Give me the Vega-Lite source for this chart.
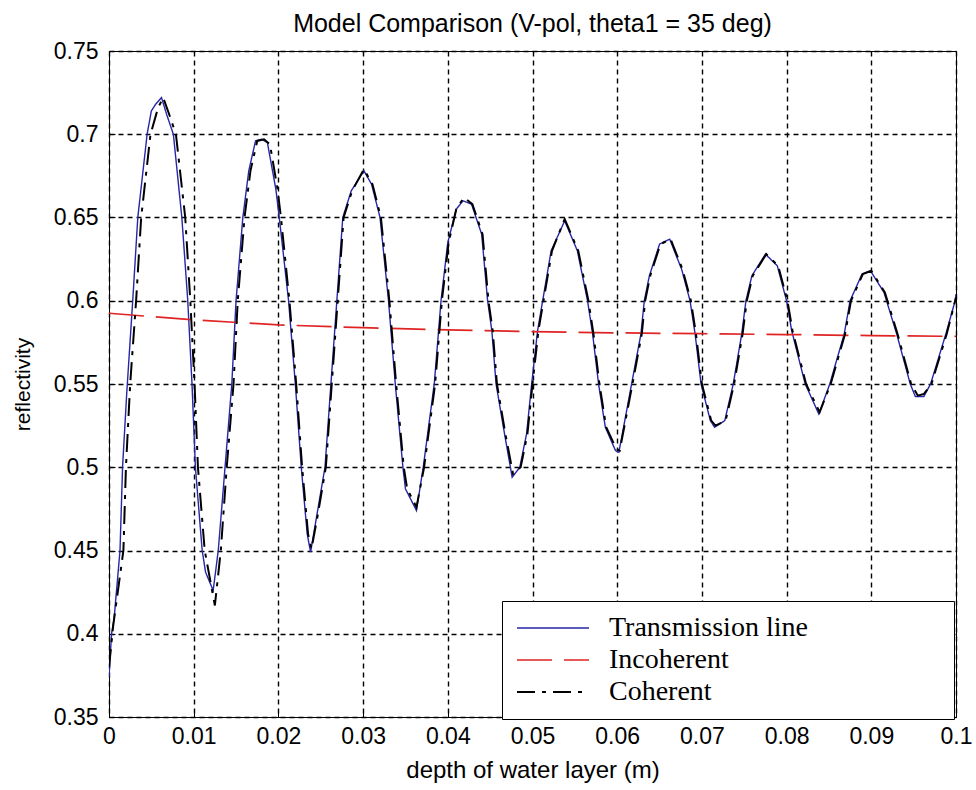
{
  "$schema": "https://vega.github.io/schema/vega-lite/v6.json",
  "autosize": {"type": "none"},
  "width": 847,
  "height": 666,
  "padding": {"left": 109, "top": 51, "right": 20, "bottom": 73},
  "background": "white",
  "title": {
    "text": "Model Comparison (V-pol, theta1 = 35 deg)",
    "font": "Liberation Sans",
    "fontSize": 25,
    "fontWeight": "normal",
    "color": "black",
    "offset": 3
  },
  "config": {
    "view": {"stroke": "black", "strokeWidth": 1},
    "axis": {
      "domainColor": "black",
      "gridColor": "black",
      "gridDash": [5, 4],
      "gridOpacity": 1,
      "gridWidth": 1.4,
      "tickColor": "black",
      "tickSize": -6,
      "labelFont": "Liberation Sans",
      "labelFontSize": 23,
      "labelColor": "black",
      "titleFont": "Liberation Sans",
      "titleColor": "black",
      "titleFontWeight": "normal"
    }
  },
  "data": {
    "values": [
      {"depth": 0.0000, "reflectivity": 0.374, "series": "Transmission line"},
      {"depth": 0.0003, "reflectivity": 0.400, "series": "Transmission line"},
      {"depth": 0.0006, "reflectivity": 0.409, "series": "Transmission line"},
      {"depth": 0.0013, "reflectivity": 0.450, "series": "Transmission line"},
      {"depth": 0.0016, "reflectivity": 0.500, "series": "Transmission line"},
      {"depth": 0.0021, "reflectivity": 0.545, "series": "Transmission line"},
      {"depth": 0.0028, "reflectivity": 0.600, "series": "Transmission line"},
      {"depth": 0.0034, "reflectivity": 0.650, "series": "Transmission line"},
      {"depth": 0.0045, "reflectivity": 0.700, "series": "Transmission line"},
      {"depth": 0.0050, "reflectivity": 0.714, "series": "Transmission line"},
      {"depth": 0.0055, "reflectivity": 0.718, "series": "Transmission line"},
      {"depth": 0.0062, "reflectivity": 0.722, "series": "Transmission line"},
      {"depth": 0.0068, "reflectivity": 0.712, "series": "Transmission line"},
      {"depth": 0.0076, "reflectivity": 0.700, "series": "Transmission line"},
      {"depth": 0.0086, "reflectivity": 0.650, "series": "Transmission line"},
      {"depth": 0.0093, "reflectivity": 0.600, "series": "Transmission line"},
      {"depth": 0.0098, "reflectivity": 0.550, "series": "Transmission line"},
      {"depth": 0.0102, "reflectivity": 0.500, "series": "Transmission line"},
      {"depth": 0.0110, "reflectivity": 0.450, "series": "Transmission line"},
      {"depth": 0.0114, "reflectivity": 0.437, "series": "Transmission line"},
      {"depth": 0.0123, "reflectivity": 0.426, "series": "Transmission line"},
      {"depth": 0.0129, "reflectivity": 0.450, "series": "Transmission line"},
      {"depth": 0.0137, "reflectivity": 0.500, "series": "Transmission line"},
      {"depth": 0.0145, "reflectivity": 0.550, "series": "Transmission line"},
      {"depth": 0.0150, "reflectivity": 0.600, "series": "Transmission line"},
      {"depth": 0.0158, "reflectivity": 0.650, "series": "Transmission line"},
      {"depth": 0.0165, "reflectivity": 0.678, "series": "Transmission line"},
      {"depth": 0.0173, "reflectivity": 0.696, "series": "Transmission line"},
      {"depth": 0.0180, "reflectivity": 0.697, "series": "Transmission line"},
      {"depth": 0.0187, "reflectivity": 0.695, "series": "Transmission line"},
      {"depth": 0.0197, "reflectivity": 0.667, "series": "Transmission line"},
      {"depth": 0.0201, "reflectivity": 0.650, "series": "Transmission line"},
      {"depth": 0.0212, "reflectivity": 0.600, "series": "Transmission line"},
      {"depth": 0.0220, "reflectivity": 0.550, "series": "Transmission line"},
      {"depth": 0.0227, "reflectivity": 0.500, "series": "Transmission line"},
      {"depth": 0.0234, "reflectivity": 0.460, "series": "Transmission line"},
      {"depth": 0.0238, "reflectivity": 0.449, "series": "Transmission line"},
      {"depth": 0.0245, "reflectivity": 0.470, "series": "Transmission line"},
      {"depth": 0.0255, "reflectivity": 0.500, "series": "Transmission line"},
      {"depth": 0.0262, "reflectivity": 0.550, "series": "Transmission line"},
      {"depth": 0.0269, "reflectivity": 0.600, "series": "Transmission line"},
      {"depth": 0.0276, "reflectivity": 0.650, "series": "Transmission line"},
      {"depth": 0.0286, "reflectivity": 0.666, "series": "Transmission line"},
      {"depth": 0.0301, "reflectivity": 0.678, "series": "Transmission line"},
      {"depth": 0.0310, "reflectivity": 0.670, "series": "Transmission line"},
      {"depth": 0.0317, "reflectivity": 0.656, "series": "Transmission line"},
      {"depth": 0.0320, "reflectivity": 0.650, "series": "Transmission line"},
      {"depth": 0.0330, "reflectivity": 0.600, "series": "Transmission line"},
      {"depth": 0.0338, "reflectivity": 0.550, "series": "Transmission line"},
      {"depth": 0.0347, "reflectivity": 0.500, "series": "Transmission line"},
      {"depth": 0.0350, "reflectivity": 0.487, "series": "Transmission line"},
      {"depth": 0.0363, "reflectivity": 0.474, "series": "Transmission line"},
      {"depth": 0.0371, "reflectivity": 0.500, "series": "Transmission line"},
      {"depth": 0.0384, "reflectivity": 0.550, "series": "Transmission line"},
      {"depth": 0.0392, "reflectivity": 0.600, "series": "Transmission line"},
      {"depth": 0.0400, "reflectivity": 0.635, "series": "Transmission line"},
      {"depth": 0.0410, "reflectivity": 0.655, "series": "Transmission line"},
      {"depth": 0.0418, "reflectivity": 0.660, "series": "Transmission line"},
      {"depth": 0.0428, "reflectivity": 0.658, "series": "Transmission line"},
      {"depth": 0.0440, "reflectivity": 0.640, "series": "Transmission line"},
      {"depth": 0.0447, "reflectivity": 0.600, "series": "Transmission line"},
      {"depth": 0.0452, "reflectivity": 0.582, "series": "Transmission line"},
      {"depth": 0.0457, "reflectivity": 0.550, "series": "Transmission line"},
      {"depth": 0.0467, "reflectivity": 0.520, "series": "Transmission line"},
      {"depth": 0.0476, "reflectivity": 0.494, "series": "Transmission line"},
      {"depth": 0.0485, "reflectivity": 0.500, "series": "Transmission line"},
      {"depth": 0.0493, "reflectivity": 0.520, "series": "Transmission line"},
      {"depth": 0.0499, "reflectivity": 0.550, "series": "Transmission line"},
      {"depth": 0.0506, "reflectivity": 0.582, "series": "Transmission line"},
      {"depth": 0.0512, "reflectivity": 0.600, "series": "Transmission line"},
      {"depth": 0.0522, "reflectivity": 0.630, "series": "Transmission line"},
      {"depth": 0.0538, "reflectivity": 0.648, "series": "Transmission line"},
      {"depth": 0.0553, "reflectivity": 0.630, "series": "Transmission line"},
      {"depth": 0.0565, "reflectivity": 0.600, "series": "Transmission line"},
      {"depth": 0.0571, "reflectivity": 0.580, "series": "Transmission line"},
      {"depth": 0.0578, "reflectivity": 0.550, "series": "Transmission line"},
      {"depth": 0.0586, "reflectivity": 0.524, "series": "Transmission line"},
      {"depth": 0.0598, "reflectivity": 0.510, "series": "Transmission line"},
      {"depth": 0.0602, "reflectivity": 0.509, "series": "Transmission line"},
      {"depth": 0.0617, "reflectivity": 0.550, "series": "Transmission line"},
      {"depth": 0.0628, "reflectivity": 0.580, "series": "Transmission line"},
      {"depth": 0.0632, "reflectivity": 0.600, "series": "Transmission line"},
      {"depth": 0.0638, "reflectivity": 0.615, "series": "Transmission line"},
      {"depth": 0.0650, "reflectivity": 0.634, "series": "Transmission line"},
      {"depth": 0.0662, "reflectivity": 0.637, "series": "Transmission line"},
      {"depth": 0.0676, "reflectivity": 0.619, "series": "Transmission line"},
      {"depth": 0.0686, "reflectivity": 0.600, "series": "Transmission line"},
      {"depth": 0.0692, "reflectivity": 0.580, "series": "Transmission line"},
      {"depth": 0.0699, "reflectivity": 0.550, "series": "Transmission line"},
      {"depth": 0.0710, "reflectivity": 0.528, "series": "Transmission line"},
      {"depth": 0.0715, "reflectivity": 0.524, "series": "Transmission line"},
      {"depth": 0.0727, "reflectivity": 0.528, "series": "Transmission line"},
      {"depth": 0.0737, "reflectivity": 0.550, "series": "Transmission line"},
      {"depth": 0.0747, "reflectivity": 0.580, "series": "Transmission line"},
      {"depth": 0.0752, "reflectivity": 0.600, "series": "Transmission line"},
      {"depth": 0.0759, "reflectivity": 0.615, "series": "Transmission line"},
      {"depth": 0.0775, "reflectivity": 0.628, "series": "Transmission line"},
      {"depth": 0.0789, "reflectivity": 0.621, "series": "Transmission line"},
      {"depth": 0.0800, "reflectivity": 0.600, "series": "Transmission line"},
      {"depth": 0.0806, "reflectivity": 0.582, "series": "Transmission line"},
      {"depth": 0.0822, "reflectivity": 0.550, "series": "Transmission line"},
      {"depth": 0.0838, "reflectivity": 0.532, "series": "Transmission line"},
      {"depth": 0.0851, "reflectivity": 0.550, "series": "Transmission line"},
      {"depth": 0.0868, "reflectivity": 0.580, "series": "Transmission line"},
      {"depth": 0.0875, "reflectivity": 0.600, "series": "Transmission line"},
      {"depth": 0.0889, "reflectivity": 0.616, "series": "Transmission line"},
      {"depth": 0.0899, "reflectivity": 0.618, "series": "Transmission line"},
      {"depth": 0.0915, "reflectivity": 0.605, "series": "Transmission line"},
      {"depth": 0.0930, "reflectivity": 0.580, "series": "Transmission line"},
      {"depth": 0.0946, "reflectivity": 0.550, "series": "Transmission line"},
      {"depth": 0.0952, "reflectivity": 0.5425, "series": "Transmission line"},
      {"depth": 0.0962, "reflectivity": 0.5425, "series": "Transmission line"},
      {"depth": 0.0970, "reflectivity": 0.550, "series": "Transmission line"},
      {"depth": 0.0988, "reflectivity": 0.580, "series": "Transmission line"},
      {"depth": 0.0999, "reflectivity": 0.600, "series": "Transmission line"},
      {"depth": 0.1000, "reflectivity": 0.604, "series": "Transmission line"},

      {"depth": 0.000, "reflectivity": 0.5925, "series": "Incoherent"},
      {"depth": 0.010, "reflectivity": 0.5885, "series": "Incoherent"},
      {"depth": 0.020, "reflectivity": 0.5855, "series": "Incoherent"},
      {"depth": 0.030, "reflectivity": 0.5838, "series": "Incoherent"},
      {"depth": 0.040, "reflectivity": 0.5825, "series": "Incoherent"},
      {"depth": 0.050, "reflectivity": 0.5815, "series": "Incoherent"},
      {"depth": 0.060, "reflectivity": 0.5807, "series": "Incoherent"},
      {"depth": 0.070, "reflectivity": 0.5802, "series": "Incoherent"},
      {"depth": 0.080, "reflectivity": 0.5797, "series": "Incoherent"},
      {"depth": 0.090, "reflectivity": 0.5791, "series": "Incoherent"},
      {"depth": 0.100, "reflectivity": 0.5786, "series": "Incoherent"},

      {"depth": 0.0000, "reflectivity": 0.380, "series": "Coherent"},
      {"depth": 0.0005, "reflectivity": 0.405, "series": "Coherent"},
      {"depth": 0.0017, "reflectivity": 0.450, "series": "Coherent"},
      {"depth": 0.0020, "reflectivity": 0.500, "series": "Coherent"},
      {"depth": 0.0025, "reflectivity": 0.550, "series": "Coherent"},
      {"depth": 0.0032, "reflectivity": 0.600, "series": "Coherent"},
      {"depth": 0.0038, "reflectivity": 0.650, "series": "Coherent"},
      {"depth": 0.0049, "reflectivity": 0.700, "series": "Coherent"},
      {"depth": 0.0058, "reflectivity": 0.716, "series": "Coherent"},
      {"depth": 0.0064, "reflectivity": 0.722, "series": "Coherent"},
      {"depth": 0.0071, "reflectivity": 0.712, "series": "Coherent"},
      {"depth": 0.0079, "reflectivity": 0.700, "series": "Coherent"},
      {"depth": 0.0090, "reflectivity": 0.650, "series": "Coherent"},
      {"depth": 0.0096, "reflectivity": 0.600, "series": "Coherent"},
      {"depth": 0.0101, "reflectivity": 0.550, "series": "Coherent"},
      {"depth": 0.0105, "reflectivity": 0.500, "series": "Coherent"},
      {"depth": 0.0113, "reflectivity": 0.450, "series": "Coherent"},
      {"depth": 0.0125, "reflectivity": 0.417, "series": "Coherent"},
      {"depth": 0.0132, "reflectivity": 0.450, "series": "Coherent"},
      {"depth": 0.0139, "reflectivity": 0.500, "series": "Coherent"},
      {"depth": 0.0147, "reflectivity": 0.550, "series": "Coherent"},
      {"depth": 0.0152, "reflectivity": 0.600, "series": "Coherent"},
      {"depth": 0.0160, "reflectivity": 0.650, "series": "Coherent"},
      {"depth": 0.0167, "reflectivity": 0.678, "series": "Coherent"},
      {"depth": 0.0175, "reflectivity": 0.696, "series": "Coherent"},
      {"depth": 0.0183, "reflectivity": 0.697, "series": "Coherent"},
      {"depth": 0.0190, "reflectivity": 0.694, "series": "Coherent"},
      {"depth": 0.0199, "reflectivity": 0.667, "series": "Coherent"},
      {"depth": 0.0203, "reflectivity": 0.650, "series": "Coherent"},
      {"depth": 0.0213, "reflectivity": 0.600, "series": "Coherent"},
      {"depth": 0.0221, "reflectivity": 0.550, "series": "Coherent"},
      {"depth": 0.0228, "reflectivity": 0.500, "series": "Coherent"},
      {"depth": 0.0235, "reflectivity": 0.460, "series": "Coherent"},
      {"depth": 0.0239, "reflectivity": 0.451, "series": "Coherent"},
      {"depth": 0.0246, "reflectivity": 0.470, "series": "Coherent"},
      {"depth": 0.0256, "reflectivity": 0.500, "series": "Coherent"},
      {"depth": 0.0263, "reflectivity": 0.550, "series": "Coherent"},
      {"depth": 0.0270, "reflectivity": 0.600, "series": "Coherent"},
      {"depth": 0.0277, "reflectivity": 0.650, "series": "Coherent"},
      {"depth": 0.0287, "reflectivity": 0.666, "series": "Coherent"},
      {"depth": 0.0301, "reflectivity": 0.679, "series": "Coherent"},
      {"depth": 0.0311, "reflectivity": 0.670, "series": "Coherent"},
      {"depth": 0.0321, "reflectivity": 0.650, "series": "Coherent"},
      {"depth": 0.0331, "reflectivity": 0.600, "series": "Coherent"},
      {"depth": 0.0339, "reflectivity": 0.550, "series": "Coherent"},
      {"depth": 0.0348, "reflectivity": 0.500, "series": "Coherent"},
      {"depth": 0.0352, "reflectivity": 0.487, "series": "Coherent"},
      {"depth": 0.0363, "reflectivity": 0.476, "series": "Coherent"},
      {"depth": 0.0372, "reflectivity": 0.500, "series": "Coherent"},
      {"depth": 0.0385, "reflectivity": 0.550, "series": "Coherent"},
      {"depth": 0.0393, "reflectivity": 0.600, "series": "Coherent"},
      {"depth": 0.0401, "reflectivity": 0.635, "series": "Coherent"},
      {"depth": 0.0410, "reflectivity": 0.655, "series": "Coherent"},
      {"depth": 0.0419, "reflectivity": 0.662, "series": "Coherent"},
      {"depth": 0.0429, "reflectivity": 0.658, "series": "Coherent"},
      {"depth": 0.0441, "reflectivity": 0.640, "series": "Coherent"},
      {"depth": 0.0448, "reflectivity": 0.600, "series": "Coherent"},
      {"depth": 0.0453, "reflectivity": 0.582, "series": "Coherent"},
      {"depth": 0.0458, "reflectivity": 0.550, "series": "Coherent"},
      {"depth": 0.0468, "reflectivity": 0.520, "series": "Coherent"},
      {"depth": 0.0477, "reflectivity": 0.496, "series": "Coherent"},
      {"depth": 0.0486, "reflectivity": 0.500, "series": "Coherent"},
      {"depth": 0.0494, "reflectivity": 0.520, "series": "Coherent"},
      {"depth": 0.0500, "reflectivity": 0.550, "series": "Coherent"},
      {"depth": 0.0507, "reflectivity": 0.582, "series": "Coherent"},
      {"depth": 0.0513, "reflectivity": 0.600, "series": "Coherent"},
      {"depth": 0.0523, "reflectivity": 0.630, "series": "Coherent"},
      {"depth": 0.0538, "reflectivity": 0.649, "series": "Coherent"},
      {"depth": 0.0554, "reflectivity": 0.630, "series": "Coherent"},
      {"depth": 0.0566, "reflectivity": 0.600, "series": "Coherent"},
      {"depth": 0.0572, "reflectivity": 0.580, "series": "Coherent"},
      {"depth": 0.0579, "reflectivity": 0.550, "series": "Coherent"},
      {"depth": 0.0587, "reflectivity": 0.524, "series": "Coherent"},
      {"depth": 0.0599, "reflectivity": 0.511, "series": "Coherent"},
      {"depth": 0.0603, "reflectivity": 0.510, "series": "Coherent"},
      {"depth": 0.0618, "reflectivity": 0.550, "series": "Coherent"},
      {"depth": 0.0629, "reflectivity": 0.580, "series": "Coherent"},
      {"depth": 0.0633, "reflectivity": 0.600, "series": "Coherent"},
      {"depth": 0.0639, "reflectivity": 0.615, "series": "Coherent"},
      {"depth": 0.0651, "reflectivity": 0.634, "series": "Coherent"},
      {"depth": 0.0663, "reflectivity": 0.637, "series": "Coherent"},
      {"depth": 0.0677, "reflectivity": 0.619, "series": "Coherent"},
      {"depth": 0.0687, "reflectivity": 0.600, "series": "Coherent"},
      {"depth": 0.0693, "reflectivity": 0.580, "series": "Coherent"},
      {"depth": 0.0700, "reflectivity": 0.550, "series": "Coherent"},
      {"depth": 0.0711, "reflectivity": 0.528, "series": "Coherent"},
      {"depth": 0.0716, "reflectivity": 0.525, "series": "Coherent"},
      {"depth": 0.0728, "reflectivity": 0.528, "series": "Coherent"},
      {"depth": 0.0738, "reflectivity": 0.550, "series": "Coherent"},
      {"depth": 0.0748, "reflectivity": 0.580, "series": "Coherent"},
      {"depth": 0.0753, "reflectivity": 0.600, "series": "Coherent"},
      {"depth": 0.0760, "reflectivity": 0.615, "series": "Coherent"},
      {"depth": 0.0776, "reflectivity": 0.628, "series": "Coherent"},
      {"depth": 0.0790, "reflectivity": 0.621, "series": "Coherent"},
      {"depth": 0.0801, "reflectivity": 0.600, "series": "Coherent"},
      {"depth": 0.0807, "reflectivity": 0.582, "series": "Coherent"},
      {"depth": 0.0823, "reflectivity": 0.550, "series": "Coherent"},
      {"depth": 0.0839, "reflectivity": 0.533, "series": "Coherent"},
      {"depth": 0.0852, "reflectivity": 0.550, "series": "Coherent"},
      {"depth": 0.0869, "reflectivity": 0.580, "series": "Coherent"},
      {"depth": 0.0876, "reflectivity": 0.600, "series": "Coherent"},
      {"depth": 0.0890, "reflectivity": 0.616, "series": "Coherent"},
      {"depth": 0.0900, "reflectivity": 0.618, "series": "Coherent"},
      {"depth": 0.0916, "reflectivity": 0.605, "series": "Coherent"},
      {"depth": 0.0931, "reflectivity": 0.580, "series": "Coherent"},
      {"depth": 0.0947, "reflectivity": 0.550, "series": "Coherent"},
      {"depth": 0.0955, "reflectivity": 0.543, "series": "Coherent"},
      {"depth": 0.0962, "reflectivity": 0.544, "series": "Coherent"},
      {"depth": 0.0971, "reflectivity": 0.550, "series": "Coherent"},
      {"depth": 0.0989, "reflectivity": 0.580, "series": "Coherent"},
      {"depth": 0.1000, "reflectivity": 0.602, "series": "Coherent"}
    ]
  },
  "mark": {"type": "line", "clip": true},
  "encoding": {
    "x": {
      "field": "depth",
      "type": "quantitative",
      "scale": {"domain": [0, 0.1], "nice": false, "zero": false},
      "axis": {
        "title": "depth of water layer (m)",
        "titleFontSize": 24,
        "titlePadding": 10,
        "values": [0, 0.01, 0.02, 0.03, 0.04, 0.05, 0.06, 0.07, 0.08, 0.09, 0.1],
        "format": ".2~f",
        "labelPadding": 14,
        "labelFlush": false
      }
    },
    "y": {
      "field": "reflectivity",
      "type": "quantitative",
      "scale": {"domain": [0.35, 0.75], "nice": false, "zero": false},
      "axis": {
        "title": "reflectivity",
        "titleFontSize": 21,
        "titlePadding": 20,
        "values": [0.35, 0.4, 0.45, 0.5, 0.55, 0.6, 0.65, 0.7, 0.75],
        "format": ".2~f",
        "labelPadding": 17,
        "labelFlush": false
      }
    },
    "color": {
      "field": "series",
      "type": "nominal",
      "scale": {
        "domain": ["Transmission line", "Incoherent", "Coherent"],
        "range": ["#2626a8", "#e02424", "#000000"]
      },
      "legend": {
        "title": null,
        "orient": "none",
        "legendX": 393,
        "legendY": 550,
        "strokeColor": "black",
        "fillColor": "white",
        "padding": 13,
        "labelFont": "Liberation Serif",
        "labelFontSize": 28,
        "labelColor": "black",
        "labelLimit": 600,
        "labelOffset": 42,
        "symbolOffset": 24,
        "symbolType": "M-3,0H3M32,0",
        "symbolSize": 576,
        "symbolStrokeWidth": 1.5,
        "rowPadding": 4
      }
    },
    "strokeDash": {
      "field": "series",
      "type": "nominal",
      "scale": {
        "domain": ["Transmission line", "Incoherent", "Coherent"],
        "range": [[1, 0], [35, 12], [18, 7, 4, 7]]
      },
      "legend": {
        "title": null,
        "orient": "none",
        "legendX": 393,
        "legendY": 550,
        "strokeColor": "black",
        "fillColor": "white",
        "padding": 13,
        "labelFont": "Liberation Serif",
        "labelFontSize": 28,
        "labelColor": "black",
        "labelLimit": 600,
        "labelOffset": 42,
        "symbolOffset": 24,
        "symbolType": "M-3,0H3M32,0",
        "symbolSize": 576,
        "symbolStrokeWidth": 1.5,
        "rowPadding": 4
      }
    },
    "strokeWidth": {
      "field": "series",
      "type": "nominal",
      "scale": {
        "domain": ["Transmission line", "Incoherent", "Coherent"],
        "range": [1.4, 2, 1.4]
      },
      "legend": null
    }
  }
}
